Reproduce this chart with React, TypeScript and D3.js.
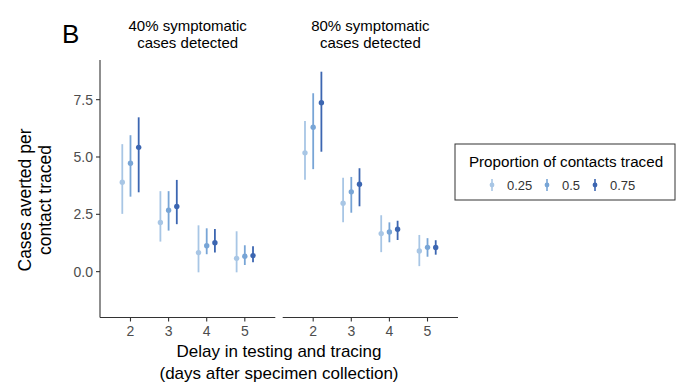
import React from 'react';
import * as d3 from 'd3';

const delays = ['2', '3', '4', '5'];
const proportions = ['0.25', '0.5', '0.75'];
const panels = ['40% symptomatic|cases detected', '80% symptomatic|cases detected'];
const yTicks = [0, 2.5, 5, 7.5];
const colors = ['#a8c6e5', '#78a5d6', '#3c66b1'];

// [panel][delay][proportion] -> mean, lower, upper
const means40 = [[3.9, 4.73, 5.42], [2.14, 2.68, 2.84], [0.83, 1.13, 1.26], [0.58, 0.67, 0.7]];
const lower40 = [[2.52, 3.27, 3.46], [1.31, 1.79, 2.07], [-0.03, 0.76, 0.83], [-0.03, 0.29, 0.41]];
const upper40 = [[5.56, 5.95, 6.73], [3.51, 3.51, 4.0], [2.02, 1.89, 1.86], [1.76, 1.15, 1.11]];
const means80 = [[5.18, 6.3, 7.37], [2.98, 3.48, 3.81], [1.66, 1.73, 1.85], [0.9, 1.06, 1.05]];
const lower80 = [[4.01, 4.47, 5.23], [2.15, 2.57, 2.85], [0.85, 1.28, 1.38], [0.24, 0.65, 0.74]];
const upper80 = [[6.57, 7.78, 8.72], [4.09, 4.13, 4.51], [2.46, 2.15, 2.22], [1.6, 1.46, 1.37]];

const panelData = [
  { means: means40, lower: lower40, upper: upper40 },
  { means: means80, lower: lower80, upper: upper80 },
];

const App = () => {
  const width = 700, height = 391;
  const top = 60, bottom = 317.5;
  const panelX = [100, 282.7];
  const panelW = 175.3;
  const font = 'Liberation Sans, Arial, Helvetica, sans-serif';

  const y = d3.scaleLinear().domain([-2, 9.23]).range([bottom, top]);
  const dodge = d3.scaleBand().domain(proportions).range([-12.3, 12.3]).padding(0);

  return (
    <svg width={width} height={height} style={{ position: 'absolute', left: 0, top: 0 }} fontFamily={font}>
      <rect width={width} height={height} fill="#fff" />
      <text x={62} y={43} fontSize={26}>B</text>

      {/* y axis */}
      <line x1={panelX[0]} x2={panelX[0]} y1={top} y2={bottom} stroke="#333" strokeWidth={1.1} />
      {yTicks.map((t) => (
        <g key={t}>
          <line x1={panelX[0] - 4} x2={panelX[0]} y1={y(t)} y2={y(t)} stroke="#333" strokeWidth={1.1} />
          <text x={panelX[0] - 7} y={y(t)} dy="0.35em" textAnchor="end" fontSize={14} fill="#4d4d4d">
            {d3.format('.1f')(t)}
          </text>
        </g>
      ))}
      <text transform="translate(31,200) rotate(-90)" textAnchor="middle" fontSize={17.5}>
        <tspan x={0} dy={0}>Cases averted per</tspan>
        <tspan x={0} dy={20}>contact traced</tspan>
      </text>

      {panelData.map((p, pi) => {
        const x = d3.scaleBand().domain(delays).range([panelX[pi], panelX[pi] + panelW]).paddingOuter(0.3).paddingInner(0);
        const x0 = panelX[pi];
        const lines = panels[pi].split('|');
        return (
          <g key={pi}>
            <text x={x0 + panelW / 2} y={31} textAnchor="middle" fontSize={15}>{lines[0]}</text>
            <text x={x0 + panelW / 2} y={48} textAnchor="middle" fontSize={15}>{lines[1]}</text>
            <line x1={x0} x2={x0 + panelW} y1={bottom} y2={bottom} stroke="#333" strokeWidth={1.1} />
            {delays.map((d, di) => {
              const cx = (x(d) as number) + x.bandwidth() / 2;
              return (
                <g key={d}>
                  <line x1={cx} x2={cx} y1={bottom} y2={bottom + 4} stroke="#333" strokeWidth={1.1} />
                  <text x={cx} y={bottom + 18} textAnchor="middle" fontSize={14} fill="#4d4d4d">{d}</text>
                  {proportions.map((pr, k) => {
                    const px = cx + (dodge(pr) as number) + dodge.bandwidth() / 2;
                    return (
                      <g key={pr}>
                        <line x1={px} x2={px} y1={y(p.lower[di][k])} y2={y(p.upper[di][k])}
                          stroke={colors[k]} strokeWidth={1.8} />
                        <circle cx={px} cy={y(p.means[di][k])} r={2.7} fill={colors[k]} />
                      </g>
                    );
                  })}
                </g>
              );
            })}
          </g>
        );
      })}

      <text x={279} y={357} textAnchor="middle" fontSize={17}>Delay in testing and tracing</text>
      <text x={279} y={379} textAnchor="middle" fontSize={17}>(days after specimen collection)</text>

      {/* legend */}
      <rect x={455} y={144} width={220} height={56} fill="#fff" stroke="#333" strokeWidth={1} />
      <text x={566} y={167} textAnchor="middle" fontSize={15.2}>Proportion of contacts traced</text>
      {proportions.map((pr, k) => {
        const lx = [492, 547, 595][k];
        return (
          <g key={pr}>
            <line x1={lx} x2={lx} y1={179} y2={191} stroke={colors[k]} strokeWidth={1.6} />
            <circle cx={lx} cy={185} r={2.4} fill={colors[k]} />
            <text x={lx + 15} y={185} dy="0.35em" fontSize={13} fill="#333">{pr}</text>
          </g>
        );
      })}
    </svg>
  );
};

export default App;
